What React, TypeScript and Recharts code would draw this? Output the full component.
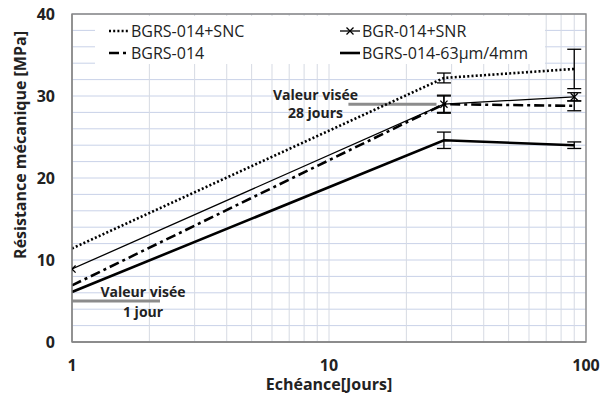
import React from 'react';
import {
  LineChart,
  Line,
  XAxis,
  YAxis,
  CartesianGrid,
  ErrorBar,
  ReferenceDot,
  ReferenceArea,
  Legend,
  Label,
} from 'recharts';

// ---- data ----
const days = [1, 28, 90];
const sncValues = [11.4, 32.2, 33.3];
const sncErrors = [null, 0.6, 2.4];
const snrValues = [8.9, 29.0, 29.9];
const snrErrors = [null, 1.1, 0.5];
const bgrsValues = [6.9, 29.0, 28.8];
const bgrsErrors = [null, 1.0, 0.6];
const fineValues = [6.1, 24.6, 24.0];
const fineErrors = [null, 1.0, 0.4];

const target1Days = [1, 2.2];
const target1Values = [5, 5];
const target28Days = [11.9, 26.2];
const target28Values = [29, 29];

const seriesNames = ['BGRS-014+SNC', 'BGR-014+SNR', 'BGRS-014', 'BGRS-014-63µm/4mm'];

const xTicks = [1, 2, 3, 4, 5, 6, 7, 8, 9, 10, 20, 30, 40, 50, 60, 70, 80, 90, 100];
const xTickLabels = [1, 10, 100];
const yTicks = [0, 2, 4, 6, 8, 10, 12, 14, 16, 18, 20, 22, 24, 26, 28, 30, 32, 34, 36, 38, 40];
const yTickLabels = [0, 10, 20, 30, 40];

const annotationDays = [1.89, 1.89, 8.86, 8.86];
const annotationValues = [6.1, 3.7, 30.2, 28.0];
const annotationTexts = ['Valeur visée', '1 jour', 'Valeur visée', '28 jours'];

const xTitle = 'Echéance[Jours]';
const yTitle = 'Résistance mécanique [MPa]';

// ---- derived tables ----
const data = days.map((d, i) => ({
  day: d,
  snc: sncValues[i],
  sncErr: sncErrors[i],
  snr: snrValues[i],
  snrErr: snrErrors[i],
  bgrs: bgrsValues[i],
  bgrsErr: bgrsErrors[i],
  fine: fineValues[i],
  fineErr: fineErrors[i],
}));
const target1 = target1Days.map((d, i) => ({ day: d, v: target1Values[i] }));
const target28 = target28Days.map((d, i) => ({ day: d, v: target28Values[i] }));
const annotations = annotationDays.map((d, i) => ({ day: d, value: annotationValues[i], text: annotationTexts[i] }));

const FONT = '"Open Sans", sans-serif';
const TEXT = '#222222';
const AXIS = '#868686';

const styles = [
  { dash: '2 2.2', width: 2.6, marker: false },
  { dash: undefined, width: 1.3, marker: true },
  { dash: '10 4 3 4', width: 2.6, marker: false },
  { dash: undefined, width: 2.6, marker: false },
];

const XMark = (props: any) => {
  const { cx, cy, index } = props;
  if (cx == null || cy == null) return <g key={'m' + index} />;
  const s = 3.6;
  return (
    <path
      key={'m' + index}
      d={`M${cx - s},${cy - s}L${cx + s},${cy + s}M${cx - s},${cy + s}L${cx + s},${cy - s}`}
      stroke="#000"
      strokeWidth={1.3}
      fill="none"
    />
  );
};

const LegendSample = ({ idx }: { idx: number }) => {
  const st = styles[idx];
  return (
    <svg width={22} height={10} style={{ display: 'block' }}>
      <line x1={1} y1={5} x2={21} y2={5} stroke="#000" strokeWidth={st.width} strokeDasharray={st.dash} />
      {st.marker ? (
        <path d="M7.5,1.5L14.5,8.5M7.5,8.5L14.5,1.5" stroke="#000" strokeWidth={1.3} fill="none" />
      ) : null}
    </svg>
  );
};

const renderLegend = () => {
  const cols = [13, 244];
  const rows = [15, 37];
  return (
    <div style={{ position: 'relative', width: 450, height: 48, background: '#fff' }}>
      {seriesNames.map((name, i) => (
        <div
          key={name}
          style={{
            position: 'absolute',
            left: cols[i % 2],
            top: rows[Math.floor(i / 2)] - 10,
            height: 20,
            display: 'flex',
            alignItems: 'center',
            fontFamily: FONT,
            fontSize: 16,
            color: TEXT,
            whiteSpace: 'nowrap',
          }}
        >
          <LegendSample idx={i} />
          <span style={{ marginLeft: 1 }}>{name}</span>
        </div>
      ))}
    </div>
  );
};

const renderAnnotation = (text: string) => (props: any) => {
  const vb = props.viewBox || {};
  const x = vb.cx != null ? vb.cx : vb.x;
  const y = vb.cy != null ? vb.cy : vb.y;
  return (
    <text
      x={x}
      y={y}
      textAnchor="middle"
      dominantBaseline="central"
      fontFamily={FONT}
      fontWeight="bold"
      fontSize={14}
      fill={TEXT}
    >
      {text}
    </text>
  );
};

const renderYTitle = (props: any) => {
  const vb = props.viewBox || { x: 0, y: 14, width: 72, height: 328 };
  const cx = 20;
  const cy = vb.y + vb.height / 2 - 33;
  return (
    <text
      x={cx}
      y={cy}
      transform={`rotate(-90, ${cx}, ${cy})`}
      textAnchor="middle"
      dominantBaseline="central"
      fontFamily={FONT}
      fontWeight="bold"
      fontSize={16}
      fill={TEXT}
    >
      {yTitle}
    </text>
  );
};

const renderXTitle = (props: any) => {
  const vb = props.viewBox || { x: 72, y: 342, width: 514, height: 54 };
  const cx = vb.x + vb.width / 2;
  const cy = vb.y + 42;
  return (
    <text
      x={cx}
      y={cy}
      textAnchor="middle"
      dominantBaseline="central"
      fontFamily={FONT}
      fontWeight="bold"
      fontSize={16}
      fill={TEXT}
    >
      {xTitle}
    </text>
  );
};

export default function App() {
  return (
    <div style={{ position: 'absolute', left: 0, top: 0, width: 602, height: 396, background: '#fff' }}>
      <LineChart width={602} height={396} data={data} margin={{ top: 14, right: 16, bottom: 0, left: 0 }}>
        <CartesianGrid horizontal={true} vertical={false} stroke="#c9d2e8" strokeWidth={1} />
        <CartesianGrid horizontal={false} vertical={true} stroke="#d6dae3" strokeWidth={1} />
        <XAxis
          dataKey="day"
          type="number"
          scale="log"
          domain={[1, 100]}
          ticks={xTicks}
          allowDataOverflow
          interval={0}
          tickLine={false}
          tickSize={6}
          tickMargin={12}
          height={54}
          axisLine={{ stroke: AXIS, strokeWidth: 1.3 }}
          tick={{ fontFamily: FONT, fontWeight: 'bold', fontSize: 16, fill: TEXT }}
          tickFormatter={(v: number) => (xTickLabels.includes(v) ? String(v) : '')}
        >
          <Label content={renderXTitle} />
        </XAxis>
        <YAxis
          type="number"
          domain={[0, 40]}
          ticks={yTicks}
          interval={0}
          width={72}
          tickLine={false}
          tickSize={6}
          tickMargin={11}
          axisLine={{ stroke: AXIS, strokeWidth: 1.3 }}
          tick={{ fontFamily: FONT, fontWeight: 'bold', fontSize: 16, fill: TEXT }}
          tickFormatter={(v: number) => (yTickLabels.includes(v) ? String(v) : '')}
        >
          <Label content={renderYTitle} />
        </YAxis>
        <ReferenceArea x1={1} x2={100} y1={0} y2={40} fill="none" stroke={AXIS} strokeWidth={1.3} />

        <Line
          data={target1}
          dataKey="v"
          stroke="#8c8c8c"
          strokeWidth={3}
          dot={false}
          isAnimationActive={false}
          legendType="none"
        />
        <Line
          data={target28}
          dataKey="v"
          stroke="#8c8c8c"
          strokeWidth={3}
          dot={false}
          isAnimationActive={false}
          legendType="none"
        />

        <Line
          dataKey="snc"
          name={seriesNames[0]}
          stroke="#000"
          strokeWidth={styles[0].width}
          strokeDasharray={styles[0].dash}
          dot={false}
          isAnimationActive={false}
        >
          <ErrorBar dataKey="sncErr" width={7} stroke="#000" strokeWidth={1.3} direction="y" />
        </Line>
        <Line
          dataKey="snr"
          name={seriesNames[1]}
          stroke="#000"
          strokeWidth={styles[1].width}
          dot={XMark}
          isAnimationActive={false}
        >
          <ErrorBar dataKey="snrErr" width={7} stroke="#000" strokeWidth={1.3} direction="y" />
        </Line>
        <Line
          dataKey="bgrs"
          name={seriesNames[2]}
          stroke="#000"
          strokeWidth={styles[2].width}
          strokeDasharray={styles[2].dash}
          dot={false}
          isAnimationActive={false}
        >
          <ErrorBar dataKey="bgrsErr" width={7} stroke="#000" strokeWidth={1.3} direction="y" />
        </Line>
        <Line
          dataKey="fine"
          name={seriesNames[3]}
          stroke="#000"
          strokeWidth={styles[3].width}
          dot={false}
          isAnimationActive={false}
        >
          <ErrorBar dataKey="fineErr" width={7} stroke="#000" strokeWidth={1.3} direction="y" />
        </Line>

        {annotations.map((a, i) => (
          <ReferenceDot
            key={'a' + i}
            x={a.day}
            y={a.value}
            r={0}
            fill="none"
            stroke="none"
            label={renderAnnotation(a.text)}
          />
        ))}

        <Legend
          verticalAlign="middle"
          align="center"
          layout="horizontal"
          wrapperStyle={{ left: 95, top: 16, width: 450, height: 48 }}
          content={renderLegend}
        />
      </LineChart>
    </div>
  );
}
